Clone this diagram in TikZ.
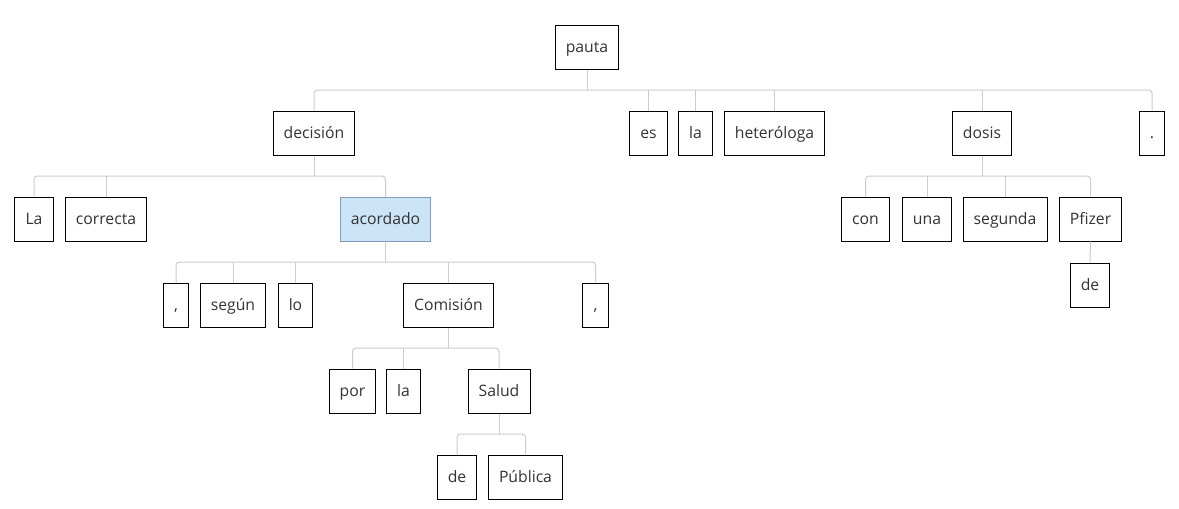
\documentclass[tikz,border=0pt]{standalone}
\usepackage{fontspec}
\setmainfont{Open Sans}
\usetikzlibrary{calc}
\definecolor{txtgray}{HTML}{333333}
\definecolor{linkgray}{HTML}{CCCCCC}
\definecolor{selfill}{HTML}{CCE4F7}
\definecolor{seledge}{HTML}{7F9DB9}
\tikzset{
  tok/.style={draw=black,line width=0.75pt,fill=white,text=txtgray,
    minimum height=33pt,inner xsep=8pt,text height=10.8pt,text depth=2.6pt,
    font=\fontsize{11.8}{13}\selectfont},
  sel/.style={tok,draw=seledge,fill=selfill},
  link/.style={draw=linkgray,line width=0.75pt,rounded corners=2.5pt}
}

\begin{document}
\begin{tikzpicture}[x=0.75pt,y=-0.75pt]
\useasboundingbox (0,0) rectangle (1179,508);

% words
\node[tok] (pauta) at (587,47) {pauta};
\node[tok] (decision) at (314,133) {decisión};
\node[tok] (es) at (648.5,133) {es};
\node[tok] (la1) at (695.5,133) {la};
\node[tok] (heterologa) at (774.5,133) {heteróloga};
\node[tok] (dosis) at (982,133) {dosis};
\node[tok] (punto) at (1152,133) {.};
\node[tok] (La) at (34,219) {La};
\node[tok] (correcta) at (106,219) {correcta};
\node[sel] (acordado) at (385.5,219) {acordado};
\node[tok] (con) at (865.5,219) {con};
\node[tok] (una) at (927,219) {una};
\node[tok] (segunda) at (1005,219) {segunda};
\node[tok] (pfizer) at (1090.5,219) {Pfizer};
\node[tok] (coma1) at (176,305) {,};
\node[tok] (segun) at (233,305) {según};
\node[tok] (lo) at (295.5,305) {lo};
\node[tok] (comision) at (448.5,305) {Comisión};
\node[tok] (coma2) at (595.5,305) {,};
\node[tok] (de1) at (1090,285) {de};
\node[tok] (por) at (352.5,391) {por};
\node[tok] (la2) at (403.5,391) {la};
\node[tok] (salud) at (499,391) {Salud};
\node[tok] (de2) at (457,477) {de};
\node[tok] (publica) at (525.5,477) {Pública};

% links
\draw[link] (pauta.south) -- (pauta.south |- 0,90);
\draw[link] (decision.north) |- (punto.north |- 0,90) -- (punto.north);
\foreach \c in {es,la1,heterologa,dosis}
  \draw[link] (\c.north) -- (\c.north |- 0,90);

\draw[link] (decision.south) -- (decision.south |- 0,176);
\draw[link] (La.north) |- (acordado.north |- 0,176) -- (acordado.north);
\draw[link] (correcta.north) -- (correcta.north |- 0,176);

\draw[link] (dosis.south) -- (dosis.south |- 0,176);
\draw[link] (con.north) |- (pfizer.north |- 0,176) -- (pfizer.north);
\foreach \c in {una,segunda}
  \draw[link] (\c.north) -- (\c.north |- 0,176);
\draw[link] (pfizer.south) -- (de1.north);

\draw[link] (acordado.south) -- (acordado.south |- 0,262);
\draw[link] (coma1.north) |- (coma2.north |- 0,262) -- (coma2.north);
\foreach \c in {segun,lo,comision}
  \draw[link] (\c.north) -- (\c.north |- 0,262);

\draw[link] (comision.south) -- (comision.south |- 0,348);
\draw[link] (por.north) |- (salud.north |- 0,348) -- (salud.north);
\draw[link] (la2.north) -- (la2.north |- 0,348);

\draw[link] (salud.south) -- (salud.south |- 0,434);
\draw[link] (de2.north) |- (publica.north |- 0,434) -- (publica.north);
\end{tikzpicture}
\end{document}
